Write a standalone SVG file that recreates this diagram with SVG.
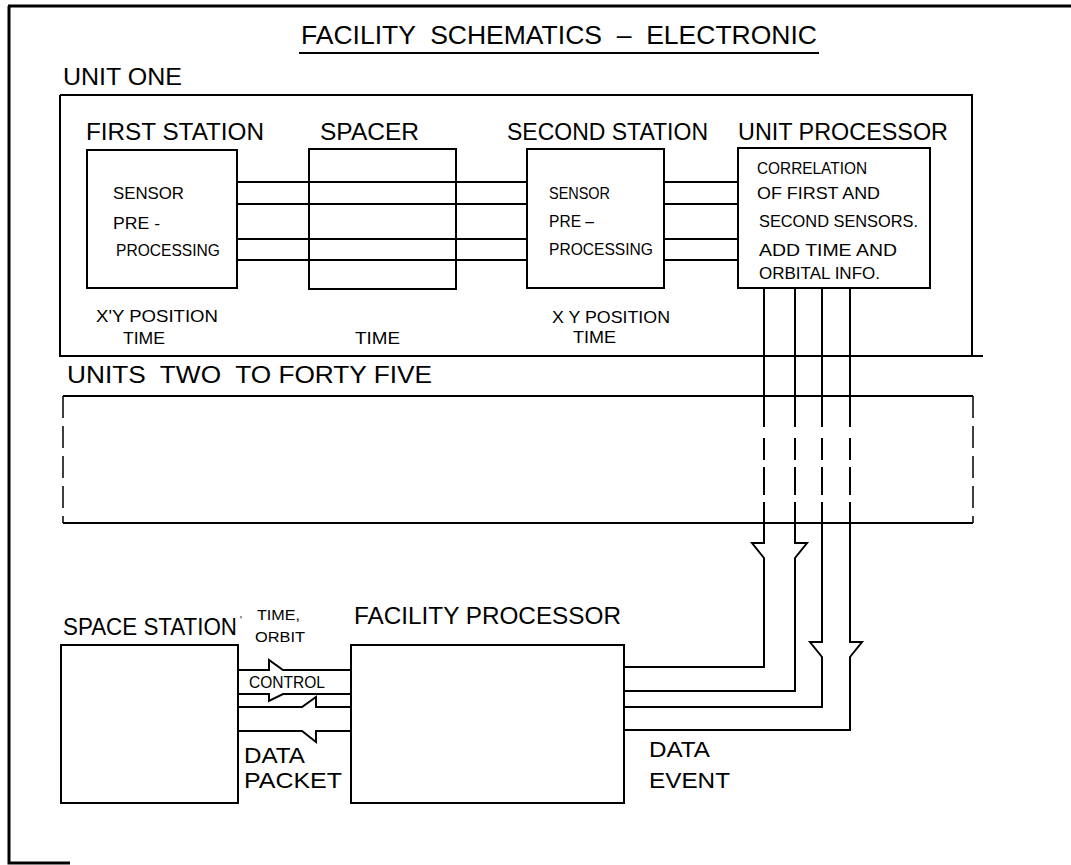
<svg xmlns="http://www.w3.org/2000/svg" width="1071" height="865" viewBox="0 0 1071 865">
<style>
text{font-family:"Liberation Sans",Arial,sans-serif;fill:#000}
.h{font-size:24px}
.s{font-size:17px}
.m{font-size:14px}
.d{font-size:22px}
.bx{fill:none;stroke:#000;stroke-width:2}
.ln{fill:none;stroke:#000;stroke-width:2}
.fr{fill:none;stroke:#000;stroke-width:3}
.dash{fill:none;stroke:#000;stroke-width:1.5;stroke-dasharray:22 8}
</style>
<rect width="1071" height="865" fill="#fff"/>
<g id="frame">
<path class="fr" d="M8,6 H1071 M9,6 V863 H70"/>
</g>
<g id="title">
<text x="301" y="44" font-size="25" textLength="516" lengthAdjust="spacingAndGlyphs" style="white-space:pre">FACILITY  SCHEMATICS  –  ELECTRONIC</text>
<path class="ln" d="M299,53 H819"/>
</g>
<g id="unit-one">
<text class="h" x="63" y="85" textLength="119" lengthAdjust="spacingAndGlyphs">UNIT ONE</text>
<path class="bx" d="M60,95 H972 V356 M983,356 H60 V95"/>
</g>
<g id="first-station">
<text class="h" x="86" y="140" textLength="178" lengthAdjust="spacingAndGlyphs">FIRST STATION</text>
<rect class="bx" x="87" y="150" width="150" height="138"/>
<text class="s" x="113" y="199" textLength="71" lengthAdjust="spacingAndGlyphs">SENSOR</text>
<text class="s" x="113" y="229" textLength="47" lengthAdjust="spacingAndGlyphs">PRE -</text>
<text class="s" x="116" y="256" textLength="104" lengthAdjust="spacingAndGlyphs">PROCESSING</text>
<text class="s" x="96" y="322" textLength="122" lengthAdjust="spacingAndGlyphs">X'Y POSITION</text>
<text class="s" x="123" y="344" textLength="42" lengthAdjust="spacingAndGlyphs">TIME</text>
</g>
<g id="spacer">
<text class="h" x="320" y="140" textLength="99" lengthAdjust="spacingAndGlyphs">SPACER</text>
<rect class="bx" x="309" y="149" width="147" height="140"/>
<text class="s" x="355" y="344" textLength="45" lengthAdjust="spacingAndGlyphs">TIME</text>
</g>
<g id="second-station">
<text class="h" x="507" y="140" textLength="201" lengthAdjust="spacingAndGlyphs">SECOND STATION</text>
<rect class="bx" x="527" y="149" width="137" height="139"/>
<text class="s" x="549" y="199" textLength="61" lengthAdjust="spacingAndGlyphs">SENSOR</text>
<text class="s" x="549" y="227" textLength="45" lengthAdjust="spacingAndGlyphs">PRE –</text>
<text class="s" x="549" y="255" textLength="104" lengthAdjust="spacingAndGlyphs">PROCESSING</text>
<text class="s" x="552" y="323" textLength="118" lengthAdjust="spacingAndGlyphs">X Y POSITION</text>
<text class="s" x="573" y="343" textLength="43" lengthAdjust="spacingAndGlyphs">TIME</text>
</g>
<g id="unit-processor">
<text class="h" x="738" y="140" textLength="210" lengthAdjust="spacingAndGlyphs">UNIT PROCESSOR</text>
<rect class="bx" x="738" y="148" width="192" height="140"/>
<text class="s" x="757" y="174" textLength="110" lengthAdjust="spacingAndGlyphs">CORRELATION</text>
<text class="s" x="757" y="199" textLength="123" lengthAdjust="spacingAndGlyphs">OF FIRST AND</text>
<text class="s" x="759" y="227" textLength="159" lengthAdjust="spacingAndGlyphs">SECOND SENSORS.</text>
<text class="s" x="759" y="256" textLength="138" lengthAdjust="spacingAndGlyphs">ADD TIME AND</text>
<text class="s" x="759" y="279" textLength="121" lengthAdjust="spacingAndGlyphs">ORBITAL INFO.</text>
</g>
<g id="units-two-to-forty-five">
<text class="h" x="67" y="383" textLength="365" lengthAdjust="spacingAndGlyphs" style="white-space:pre">UNITS  TWO  TO FORTY FIVE</text>
<path class="ln" d="M63,396 H973 M63,523 H973"/>
<path class="dash" d="M63,396 V523 M973,396 V523"/>
</g>
<g id="space-station">
<text class="h" x="63" y="635" textLength="174" lengthAdjust="spacingAndGlyphs">SPACE STATION</text>
<text x="240" y="624" font-size="10">'</text>
<rect class="bx" x="61" y="645" width="177" height="158"/>
</g>
<g id="facility-processor">
<text class="h" x="354" y="624" textLength="267" lengthAdjust="spacingAndGlyphs">FACILITY PROCESSOR</text>
<rect class="bx" x="351" y="645" width="273" height="158"/>
</g>
<g id="connectors">
<path class="ln" d="M237,182 H527 M237,204 H527 M237,239 H527 M237,260 H527"/>
<path class="ln" d="M664,182 H738 M664,204 H738 M664,239 H738 M664,260 H738"/>
<path class="ln" d="M764,288 V427 M764,438 V460 M764,467 V495 M764,502 V543 H752 L764,558 V667 H624"/>
<path class="ln" d="M795,288 V427 M795,438 V460 M795,467 V495 M795,502 V543 H807 L795,558 V691 H624"/>
<path class="ln" d="M822,288 V427 M822,438 V460 M822,467 V495 M822,502 V642 H810 L822,657 V707 H624"/>
<path class="ln" d="M850,288 V427 M850,438 V460 M850,467 V495 M850,502 V642 H862 L850,657 V730 H624"/>
<path class="ln" d="M238,670 H269 V660 L283,670 H351"/>
<path class="ln" d="M238,694 H269 V701 L283,694 H351"/>
<path class="ln" d="M238,707 H302 L316,697 V707 H351"/>
<path class="ln" d="M238,731 H302 L316,742 V731 H351"/>
<text class="m" x="257" y="620" textLength="43" lengthAdjust="spacingAndGlyphs">TIME,</text>
<text class="m" x="255" y="642" textLength="50" lengthAdjust="spacingAndGlyphs">ORBIT</text>
<text class="s" x="249" y="688" textLength="76" lengthAdjust="spacingAndGlyphs">CONTROL</text>
<text class="d" x="244" y="763" textLength="61" lengthAdjust="spacingAndGlyphs">DATA</text>
<text class="d" x="244" y="788" textLength="98" lengthAdjust="spacingAndGlyphs">PACKET</text>
<text class="d" x="649" y="757" textLength="61" lengthAdjust="spacingAndGlyphs">DATA</text>
<text class="d" x="649" y="788" textLength="81" lengthAdjust="spacingAndGlyphs">EVENT</text>
</g>
</svg>
